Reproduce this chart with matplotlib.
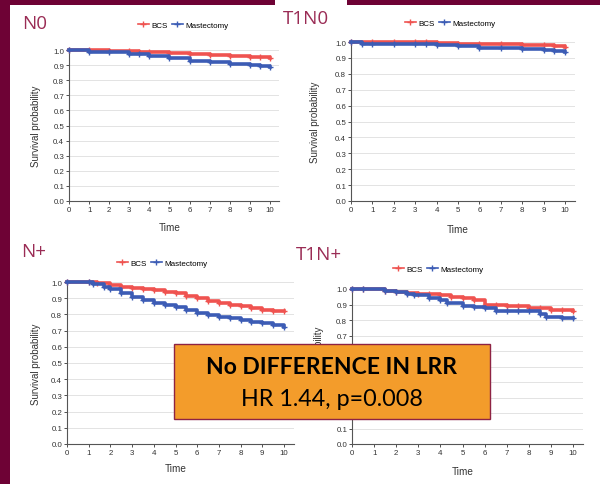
import matplotlib
matplotlib.use("Agg")
import matplotlib.pyplot as plt
from matplotlib.patches import Rectangle

W, H = 600, 485
RED = "#EF5350"
BLUE = "#3C5CB5"
MAROON = "#6E0235"
LABEL = "#9A2C55"

# --- data (years, survival probability) ---
n0_bcs_t = [0, 1, 2, 3, 3.5, 4, 5, 6, 7, 8, 9, 9.5, 10]
n0_bcs_s = [1.0, 0.998, 0.995, 0.992, 0.99, 0.987, 0.98, 0.975, 0.968, 0.962, 0.956, 0.952, 0.95]
n0_mas_t = [0, 1, 2, 3, 3.5, 4, 5, 6, 7, 8, 9, 9.5, 10]
n0_mas_s = [1.0, 0.99, 0.985, 0.975, 0.972, 0.96, 0.945, 0.93, 0.92, 0.91, 0.898, 0.893, 0.89]

t1n0_bcs_t = [0, 1, 2, 3, 3.5, 4, 5, 6, 7, 8, 9, 9.5, 10]
t1n0_bcs_s = [1.0, 1.0, 0.998, 0.998, 0.997, 0.995, 0.99, 0.988, 0.985, 0.982, 0.978, 0.975, 0.97]
t1n0_mas_t = [0, 0.5, 1, 2, 3, 3.5, 4, 5, 6, 7, 8, 9, 9.5, 10]
t1n0_mas_s = [1.0, 0.99, 0.99, 0.99, 0.99, 0.985, 0.98, 0.972, 0.965, 0.96, 0.955, 0.948, 0.944, 0.94]

np_bcs_t = [0, 1, 1.4, 2, 2.5, 3, 3.5, 4, 4.5, 5, 5.5, 6, 6.5, 7, 7.5, 8, 8.5, 9, 9.5, 10]
np_bcs_s = [1.0, 1.0, 0.995, 0.98, 0.972, 0.965, 0.958, 0.95, 0.94, 0.93, 0.915, 0.9, 0.885, 0.87, 0.86, 0.85, 0.84, 0.83, 0.822, 0.818]
np_mas_t = [0, 1, 1.2, 1.7, 2, 2.5, 3, 3.5, 4, 4.5, 5, 5.5, 6, 6.5, 7, 7.5, 8, 8.5, 9, 9.5, 10]
np_mas_s = [1.0, 1.0, 0.99, 0.97, 0.955, 0.935, 0.91, 0.89, 0.87, 0.855, 0.845, 0.825, 0.81, 0.795, 0.785, 0.775, 0.768, 0.755, 0.745, 0.735, 0.725]

t1np_bcs_t = [0, 0.5, 1.5, 2, 2.5, 3, 3.5, 4, 4.5, 5, 5.5, 6, 6.5, 7, 7.5, 8, 8.5, 9, 9.5, 10]
t1np_bcs_s = [1.0, 1.0, 0.99, 0.98, 0.975, 0.97, 0.965, 0.96, 0.95, 0.94, 0.93, 0.9, 0.895, 0.89, 0.89, 0.88, 0.875, 0.865, 0.862, 0.86]
t1np_mas_t = [0, 0.5, 1.5, 2, 2.5, 2.8, 3.5, 4, 4.3, 5, 5.5, 6, 6.5, 7, 7.5, 8, 8.5, 8.8, 9.5, 10]
t1np_mas_s = [1.0, 1.0, 0.99, 0.98, 0.97, 0.96, 0.94, 0.93, 0.91, 0.89, 0.885, 0.875, 0.86, 0.855, 0.855, 0.855, 0.84, 0.82, 0.815, 0.815]

panel_names = ["N0", "T1N0", "N+", "T1N+"]
series_names = ["BCS", "Mastectomy"]
x_ticks = list(range(0, 11))
y_ticks = [round(0.1 * i, 1) for i in range(11)]

panels = [
    dict(name=panel_names[0], bcs=(n0_bcs_t, n0_bcs_s), mas=(n0_mas_t, n0_mas_s),
         x0=69, x10=270, ytop=51, ybot=202, lab=(22, 24), leg=(183, 26), ylab=36, xlab=228),
    dict(name=panel_names[1], bcs=(t1n0_bcs_t, t1n0_bcs_s), mas=(t1n0_mas_t, t1n0_mas_s),
         x0=351, x10=565, ytop=43, ybot=202, lab=(283, 19), leg=(450, 24), ylab=315, xlab=230),
    dict(name=panel_names[2], bcs=(np_bcs_t, np_bcs_s), mas=(np_mas_t, np_mas_s),
         x0=67, x10=284, ytop=283, ybot=445, lab=(21, 252), leg=(162, 264), ylab=36, xlab=469),
    dict(name=panel_names[3], bcs=(t1np_bcs_t, t1np_bcs_s), mas=(t1np_mas_t, t1np_mas_s),
         x0=352, x10=573, ytop=290, ybot=445, lab=(296, 255), leg=(438, 270), ylab=319, xlab=472),
]

plt.rcParams["font.family"] = ["Liberation Sans", "DejaVu Sans"]
fig = plt.figure(figsize=(W / 100, H / 100), dpi=100)
fig.patch.set_facecolor("white")

# slide border
fig.add_artist(Rectangle((0, 0), 10 / W, 1, transform=fig.transFigure, color=MAROON, lw=0))
fig.add_artist(Rectangle((0, 1 - 6 / H), 275 / W, 6 / H, transform=fig.transFigure, color=MAROON, lw=0))
fig.add_artist(Rectangle((347 / W, 1 - 6 / H), 253 / W, 6 / H, transform=fig.transFigure, color=MAROON, lw=0))

XMAX = 10.45
for p in panels:
    ppu = (p["x10"] - p["x0"]) / 10.0
    width = XMAX * ppu
    ax = fig.add_axes([p["x0"] / W, 1 - p["ybot"] / H, width / W, (p["ybot"] - p["ytop"]) / H])
    ax.set_xlim(0, XMAX)
    ax.set_ylim(0, 1.0)
    ax.set_xticks(x_ticks)
    ax.set_yticks(y_ticks)
    ax.set_yticklabels([f"{v:.1f}" for v in y_ticks])
    ax.tick_params(labelsize=5.7, length=2, width=0.6, colors="#333333", pad=1.5)
    for s in ["top", "right"]:
        ax.spines[s].set_visible(False)
    for s in ["left", "bottom"]:
        ax.spines[s].set_color("#555555")
        ax.spines[s].set_linewidth(0.8)
    ax.grid(axis="y", color="#E3E3E3", lw=0.7)
    ax.set_axisbelow(True)
    for (t, s), c, nm in [(p["bcs"], RED, series_names[0]), (p["mas"], BLUE, series_names[1])]:
        ax.step(t, s, where="post", color=c, lw=2.6, clip_on=False, zorder=3,
                marker="+", markersize=4.5, markeredgewidth=1.0, label=nm)
    ymid = (p["ytop"] + p["ybot"]) / 2
    fig.text(p["ylab"] / W, 1 - ymid / H, "Survival probability", rotation=90,
             fontsize=7.0, color="#333333", ha="center", va="center")
    fig.text((p["x0"] + p["x10"]) / 2 / W, 1 - p["xlab"] / H, "Time",
             fontsize=7.2, color="#333333", ha="center", va="center")
    leg = ax.legend(loc="center", bbox_to_anchor=(p["leg"][0] / W, 1 - p["leg"][1] / H),
                    bbox_transform=fig.transFigure, ncol=2, frameon=False, fontsize=5.8,
                    handlelength=1.4, handletextpad=0.3, columnspacing=0.5, borderpad=0)
    for h in leg.legend_handles:
        h.set_linewidth(1.2)
    fig.text(p["lab"][0] / W, 1 - p["lab"][1] / H, p["name"], fontsize=13.5, color=LABEL,
             ha="left", va="center", family=["Open Sans", "DejaVu Sans"])

# orange annotation box
bx0, bx1, by0, by1 = 174, 490, 345, 420
fig.add_artist(Rectangle((bx0 / W, 1 - by1 / H), (bx1 - bx0) / W, (by1 - by0) / H,
                         transform=fig.transFigure, facecolor="#F39C2B", edgecolor="#8E2344",
                         lw=1.0, zorder=10))
cx = (bx0 + bx1) / 2 / W
fig.text(cx, 1 - 368 / H, "No DIFFERENCE IN LRR", fontsize=16.5, fontweight="bold",
         ha="center", va="center", color="black", zorder=11, family=["Lato", "DejaVu Sans"])
fig.text(cx, 1 - 400 / H, "HR 1.44, p=0.008", fontsize=16.8,
         ha="center", va="center", color="black", zorder=11, family=["Lato", "DejaVu Sans"])

fig.savefig("out.png", dpi=100)
